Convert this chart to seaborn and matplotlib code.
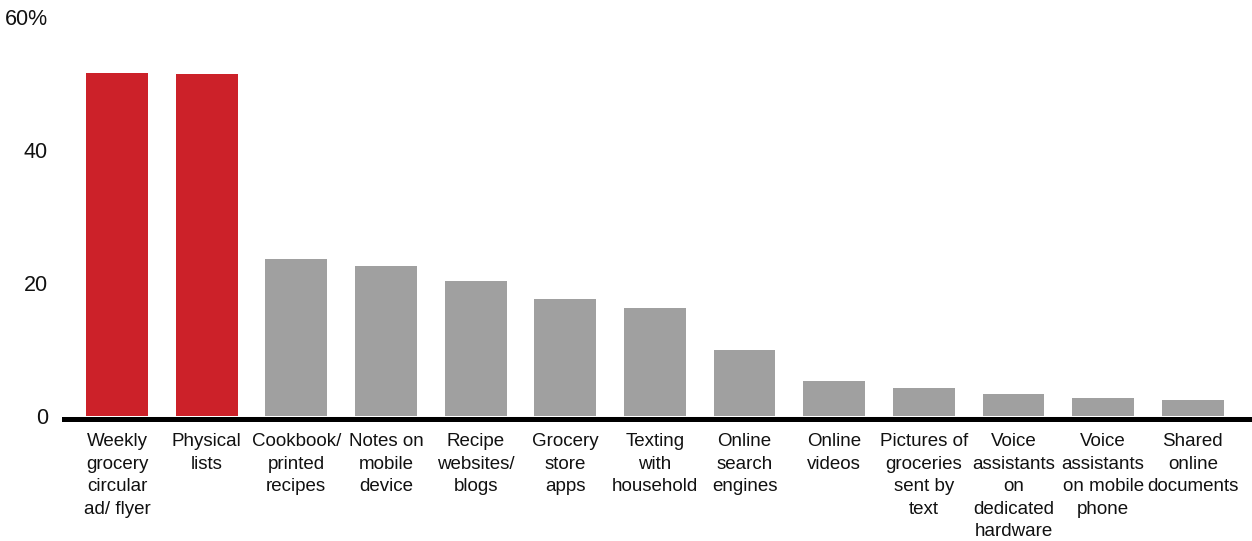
import matplotlib
matplotlib.use("Agg")
import matplotlib.pyplot as plt
import seaborn as sns
import pandas as pd

# Ways shoppers build their grocery lists (% of respondents)
categories = [
    "Weekly\ngrocery\ncircular\nad/ flyer",
    "Physical\nlists",
    "Cookbook/\nprinted\nrecipes",
    "Notes on\nmobile\ndevice",
    "Recipe\nwebsites/\nblogs",
    "Grocery\nstore\napps",
    "Texting\nwith\nhousehold",
    "Online\nsearch\nengines",
    "Online\nvideos",
    "Pictures of\ngroceries\nsent by\ntext",
    "Voice\nassistants\non\ndedicated\nhardware",
    "Voice\nassistants\non mobile\nphone",
    "Shared\nonline\ndocuments",
]
values = [51.6, 51.5, 23.6, 22.6, 20.3, 17.6, 16.2, 9.9, 5.3, 4.2, 3.3, 2.7, 2.4]
highlighted = [True, True] + [False] * 11

y_ticks = [0, 20, 40, 60]
y_tick_labels = ["0", "20", "40", "60%"]

RED = "#CC2129"
GREY = "#A0A0A0"

df = pd.DataFrame({"method": categories, "share": values})
colors = [RED if h else GREY for h in highlighted]

sns.set_theme(style="white")
plt.rcParams["font.family"] = ["Liberation Sans", "DejaVu Sans"]

fig = plt.figure(figsize=(12.52, 5.41), dpi=100)
ax = fig.add_axes([64 / 1252, 1 - 416 / 541, 1 - 64 / 1252, (416 - 17) / 541])

sns.barplot(
    data=df, x="method", y="share", hue="method", palette=colors,
    width=0.69, legend=False, saturation=1, ax=ax, zorder=3,
    linewidth=0, edgecolor="none",
)

ax.set_xlim(-0.591, 12.66)
ax.set_ylim(0, 60)
ax.set_yticks(y_ticks)
ax.set_yticklabels(y_tick_labels)
ax.set_xlabel("")
ax.set_ylabel("")

for side in ["left", "right", "top"]:
    ax.spines[side].set_visible(False)
ax.spines["bottom"].set_color("black")
ax.spines["bottom"].set_linewidth(3.6)
ax.spines["bottom"].set_position(("outward", 1.8))
ax.spines["bottom"].set_zorder(4)

ax.tick_params(axis="y", length=0, pad=11.5, labelsize=15.5, colors="#111111")
ax.tick_params(axis="x", length=0, pad=10.5, labelsize=13.5, colors="#111111")
for lbl in ax.get_xticklabels():
    lbl.set_linespacing(1.43)
    lbl.set_verticalalignment("top")

ax.grid(False)
fig.savefig("out.png", dpi=100)
